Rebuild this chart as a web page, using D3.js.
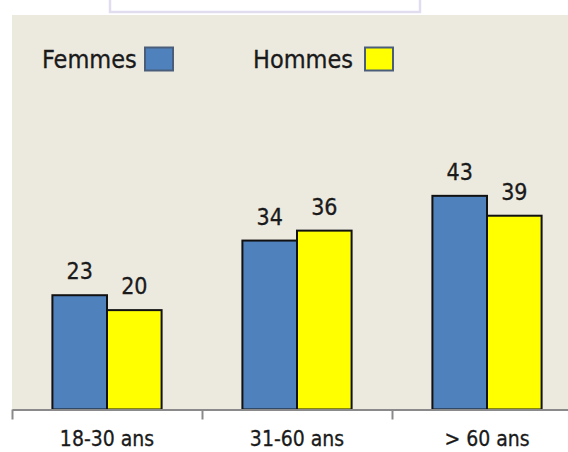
<!DOCTYPE html>
<html>
<head>
<meta charset="utf-8">
<script src="https://cdn.jsdelivr.net/npm/d3@7"></script>
<style>
  html, body { margin: 0; padding: 0; background: #ffffff; }
  svg { display: block; }
  text { font-family: "DejaVu Sans Condensed", "DejaVu Sans", sans-serif; fill: #1a1a1a; }
</style>
</head>
<body>
<svg id="chart" width="568" height="452"></svg>
<script>
// Age groups on the x axis
const categories = ["18-30 ans", "31-60 ans", "> 60 ans"];
// Series names (legend order)
const seriesNames = ["Femmes", "Hommes"];
// Values per age group
const femmes = [23, 34, 43];
const hommes = [20, 36, 39];
const seriesColors = ["#4F81BD", "#FFFF00"];

const svg = d3.select("#chart");
const W = 568, H = 452;

const plot = { left: 12, right: 582, top: 15, bottom: 409.5 };

// Title box peeking in at the top
svg.append("rect")
  .attr("x", 110).attr("y", -4).attr("width", 310).attr("height", 16)
  .attr("fill", "#ffffff").attr("stroke", "#E2DDEE").attr("stroke-width", 2.5);

// Plot area background
svg.append("rect")
  .attr("x", plot.left).attr("y", plot.top)
  .attr("width", W - plot.left).attr("height", plot.bottom - plot.top)
  .attr("fill", "#ECE9DF");

const x0 = d3.scaleBand().domain(categories).range([plot.left, plot.right]).padding(0);
const x1 = d3.scaleBand().domain(seriesNames).range([0, x0.bandwidth()])
  .paddingInner(0).paddingOuter(0.74);
const y = d3.scaleLinear().domain([0, 80]).range([plot.bottom, 12]);

const rows = categories.map((c, i) => ({ cat: c, values: [femmes[i], hommes[i]] }));

const groups = svg.append("g").selectAll("g")
  .data(rows).join("g")
  .attr("transform", d => `translate(${x0(d.cat)},0)`);

groups.selectAll("rect")
  .data(d => d.values.map((v, j) => ({ name: seriesNames[j], v, j })))
  .join("rect")
  .attr("x", d => x1(d.name))
  .attr("y", d => y(d.v))
  .attr("width", x1.bandwidth())
  .attr("height", d => y(0) - y(d.v))
  .attr("fill", d => seriesColors[d.j])
  .attr("stroke", "#111111")
  .attr("stroke-width", 2);

groups.selectAll("text.val")
  .data(d => d.values.map((v, j) => ({ name: seriesNames[j], v })))
  .join("text")
  .attr("class", "val")
  .attr("x", d => x1(d.name) + x1.bandwidth() / 2)
  .attr("y", d => y(d.v) - 16)
  .attr("text-anchor", "middle")
  .style("font-size", "23px")
  .style("stroke", "#1a1a1a").style("stroke-width", 0.3)
  .text(d => d.v);

// Category axis
const axis = svg.append("g")
  .attr("transform", `translate(0,${plot.bottom})`)
  .call(d3.axisBottom(x0).tickSize(0).tickSizeOuter(0).tickPadding(22));
axis.select(".domain").attr("stroke", "#8a8a8a").attr("stroke-width", 2);
axis.selectAll("text").style("font-size", "21px").attr("fill", "#1a1a1a")
  .style("stroke", "#1a1a1a").style("stroke-width", 0.3)
  .style("font-family", "'DejaVu Sans Condensed', 'DejaVu Sans', sans-serif");

// Tick marks between categories
axis.selectAll("line.sep")
  .data(categories)
  .join("line")
  .attr("class", "sep")
  .attr("x1", d => x0(d) + 0.5).attr("x2", d => x0(d) + 0.5)
  .attr("y1", 0).attr("y2", 10)
  .attr("stroke", "#8a8a8a").attr("stroke-width", 2);

// Legend
const legendItems = [
  { name: "Femmes", tx: 42, sx: 145 },
  { name: "Hommes", tx: 253, sx: 365 }
];
const lg = svg.append("g").selectAll("g").data(legendItems).join("g");
lg.append("text")
  .attr("x", d => d.tx).attr("y", 68)
  .style("font-size", "25px")
  .style("stroke", "#1a1a1a").style("stroke-width", 0.3)
  .text(d => d.name);
lg.append("rect")
  .attr("x", d => d.sx).attr("y", 47.5)
  .attr("width", 28).attr("height", 23)
  .attr("fill", (d, i) => seriesColors[i])
  .attr("stroke", "#4a5e7a").attr("stroke-width", 2);
</script>
</body>
</html>
